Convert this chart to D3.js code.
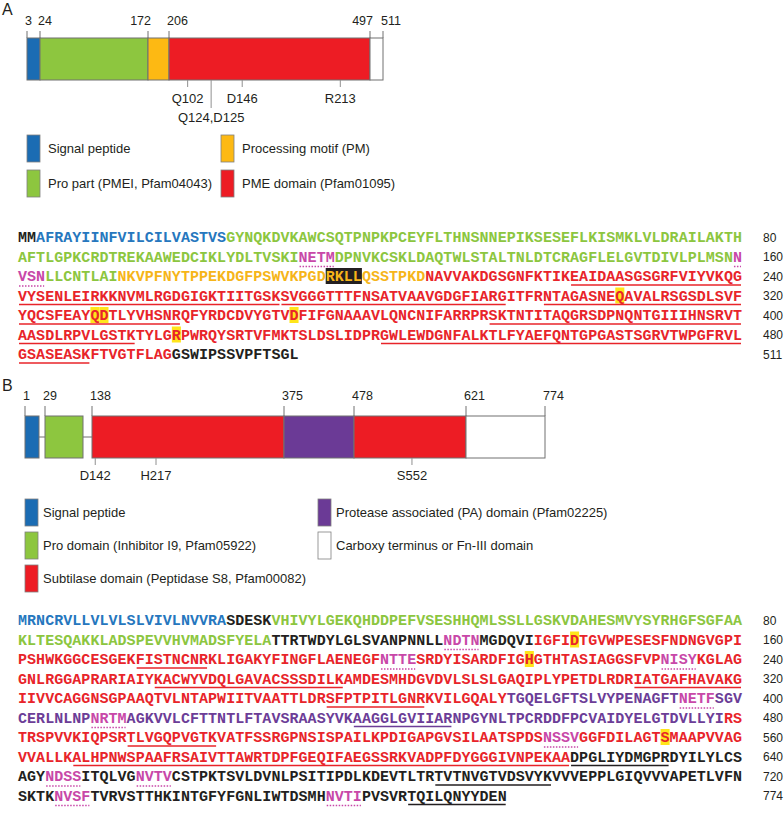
<!DOCTYPE html>
<html>
<head>
<meta charset="utf-8">
<script src="https://cdn.jsdelivr.net/npm/d3@7/dist/d3.min.js"></script>
<style>
  body { margin: 0; background: #fff; }
  svg { display: block; }
  .lab { font-family: "Liberation Sans", Arial, sans-serif; fill: #231f20; }
  .aa { font-family: "Liberation Mono", "Courier New", monospace; font-weight: bold; font-size: 15px; }
</style>
</head>
<body>
<svg width="784" height="817"></svg>
<script>
// ---- data: panel A (PME) ----
var seqA = [
  "MMAFRAYIINFVILCILVASTVSGYNQKDVKAWCSQTPNPKPCEYFLTHNSNNEPIKSESEFLKISMKLVLDRAILAKTH",
  "AFTLGPKCRDTREKAAWEDCIKLYDLTVSKINETMDPNVKCSKLDAQTWLSTALTNLDTCRAGFLELGVTDIVLPLMSNN",
  "VSNLLCNTLAINKVPFNYTPPEKDGFPSWVKPGDRKLLQSSTPKDNAVVAKDGSGNFKTIKEAIDAASGSGRFVIYVKQG",
  "VYSENLEIRKKNVMLRGDGIGKTIITGSKSVGGGTTTFNSATVAAVGDGFIARGITFRNTAGASNEQAVALRSGSDLSVF",
  "YQCSFEAYQDTLYVHSNRQFYRDCDVYGTVDFIFGNAAAVLQNCNIFARRPRSKTNTITAQGRSDPNQNTGIIIHNSRVT",
  "AASDLRPVLGSTKTYLGRPWRQYSRTVFMKTSLDSLIDPRGWLEWDGNFALKTLFYAEFQNTGPGASTSGRVTWPGFRVL",
  "GSASEASKFTVGTFLAGGSWIPSSVPFTSGL"
];
var breaksA = [3, 24, 172, 206, 497, 511];
var domainsA = ["signal", "pro", "pm", "pme", "cterm"];
var sitesA = ["Q102", "Q124,D125", "D146", "R213"];
var sitePosA = [233, 267, 312, 454];
var runsA = [[1, 2, "plain"], [3, 23, "signal"], [24, 171, "pro"], [172, 205, "pm"], [206, 497, "pme"], [498, 511, "plain"]];
var glycoA = [[112, 115], [160, 163]];
var motifA = [[195, 198]];
var activeA = [307, 329, 330, 351, 418];
var underA = [[222, 269, "pme"], [270, 294, "pme"], [299, 320, "pme"], [321, 338, "pme"], [373, 413, "pme"], [441, 488, "pme"]];
var legendA = [["signal", "Signal peptide"], ["pm", "Processing motif (PM)"],
               ["pro", "Pro part (PMEI, Pfam04043)"], ["pme", "PME domain (Pfam01095)"]];

// ---- data: panel B (subtilase) ----
var seqB = [
  "MRNCRVLLVLVLSLVIVLNVVRASDESKVHIVYLGEKQHDDPEFVSESHHQMLSSLLGSKVDAHESMVYSYRHGFSGFAA",
  "KLTESQAKKLADSPEVVHVMADSFYELATTRTWDYLGLSVANPNNLLNDTNMGDQVIIGFIDTGVWPESESFNDNGVGPI",
  "PSHWKGGCESGEKFISTNCNRKLIGAKYFINGFLAENEGFNTTESRDYISARDFIGHGTHTASIAGGSFVPNISYKGLAG",
  "GNLRGGAPRARIAIYKACWYVDQLGAVACSSSDILKAMDESMHDGVDVLSLSLGAQIPLYPETDLRDRIATGAFHAVAKG",
  "IIVVCAGGNSGPAAQTVLNTAPWIITVAATTLDRSFPTPITLGNRKVILGQALYTGQELGFTSLVYPENAGFTNETFSGV",
  "CERLNLNPNRTMAGKVVLCFTTNTLFTAVSRAASYVKAAGGLGVIIARNPGYNLTPCRDDFPCVAIDYELGTDVLLYIRS",
  "TRSPVVKIQPSRTLVGQPVGTKVATFSSRGPNSISPAILKPDIGAPGVSILAATSPDSNSSVGGFDILAGTSMAAPVVAG",
  "VVALLKALHPNWSPAAFRSAIVTTAWRTDPFGEQIFAEGSSRKVADPFDYGGGIVNPEKAADPGLIYDMGPRDYILYLCS",
  "AGYNDSSITQLVGNVTVCSTPKTSVLDVNLPSITIPDLKDEVTLTRTVTNVGTVDSVYKVVVEPPLGIQVVVAPETLVFN",
  "SKTKNVSFTVRVSTTHKINTGFYFGNLIWTDSMHNVTIPVSVRTQILQNYYDEN"
];
var breaksB = [1, 29, 138, 375, 478, 621, 774];
var boxesB = [[1, 24, "signal"], [29, 109, "pro"], [138, 375, "sub"], [375, 478, "pa"], [478, 621, "sub"], [621, 774, "cterm"]];
var sitesB = ["D142", "H217", "S552"];
var sitePosB = [142, 217, 552];
var runsB = [[1, 23, "signal"], [24, 28, "plain"], [29, 108, "pro"], [109, 137, "plain"], [138, 374, "sub"], [375, 478, "pa"], [479, 621, "sub"], [622, 774, "plain"]];
var glycoB = [[128, 131], [201, 204], [232, 235], [394, 397], [409, 412], [539, 542], [644, 647], [654, 657], [725, 728], [755, 758]];
var activeB = [142, 217, 552];
var underB = [[174, 181, "sub"], [256, 276, "sub"], [309, 320, "sub"], [355, 365, "sub"], [438, 448, "pa"], [493, 502, "sub"],
              [567, 621, "sub"], [622, 632, "plain"], [687, 699, "plain"], [764, 774, "plain"]];
var legendB = [["signal", "Signal peptide"], ["pa", "Protease associated (PA) domain (Pfam02225)"],
               ["pro", "Pro domain (Inhibitor I9, Pfam05922)"], ["cterm", "Carboxy terminus or Fn-III domain"],
               ["sub", "Subtilase domain (Peptidase S8, Pfam00082)"]];

// colours
var fillCol = { signal: "#1b6cb3", pro: "#8dc63f", pm: "#fdb913", pme: "#ed1c24", sub: "#ed1c24", pa: "#6b3a96", cterm: "#ffffff" };
var textCol = { signal: "#2677be", pro: "#8cc63f", pm: "#f6b519", pme: "#e8242a", sub: "#e8242a", pa: "#6c3d97", plain: "#231f20", glyco: "#c848a8" };
var edge = "#707070";

var svg = d3.select("svg");

// ---------- domain diagram ----------
function drawDiagram(g, o) {
  var x = o.x;
  g.append("text").attr("class", "lab").attr("x", 2).attr("y", o.panelY)
    .style("font-size", "16px").text(o.panel);

  // boundary ticks and numbers
  g.selectAll("line.bt").data(o.breaks).enter().append("line")
    .attr("x1", d => x(d)).attr("x2", d => x(d))
    .attr("y1", o.barTop - o.tickUp).attr("y2", o.barTop)
    .attr("stroke", edge).attr("stroke-width", 1);
  var nums = g.selectAll("text.bn").data(o.breaks).enter().append("text")
    .attr("class", "lab").style("font-size", "12.5px")
    .attr("y", o.numY).text(d => d);
  // start-anchored by default, end-anchored when the next number is too close
  nums.each(function (d, i) {
    var next = o.breaks[i + 1];
    var w = this.getComputedTextLength();
    if (next !== undefined && x(next) - x(d) < w + 2) {
      d3.select(this).attr("x", x(d) + 3).attr("text-anchor", "end");
    } else {
      d3.select(this).attr("x", x(d) - 2).attr("text-anchor", "start");
    }
  });

  // connector line for gapped boxes
  var mid = (o.barTop + o.barBot) / 2;
  g.append("line").attr("x1", x(o.breaks[0])).attr("x2", x(o.breaks[o.breaks.length - 1]))
    .attr("y1", mid).attr("y2", mid).attr("stroke", edge);

  g.selectAll("rect.box").data(o.boxes).enter().append("rect")
    .attr("x", d => x(d[0])).attr("width", d => x(d[1]) - x(d[0]))
    .attr("y", o.barTop).attr("height", o.barBot - o.barTop)
    .attr("fill", d => fillCol[d[2]]).attr("stroke", edge).attr("stroke-width", 1);

  // catalytic sites
  g.selectAll("line.st").data(o.sitePos).enter().append("line")
    .attr("x1", d => x(d)).attr("x2", d => x(d))
    .attr("y1", o.barBot).attr("y2", (d, i) => o.longTick === i ? o.barBot + 28 : o.barBot + 7)
    .attr("stroke", "#909090").attr("stroke-width", 1);
  g.selectAll("text.st").data(o.sites).enter().append("text")
    .attr("class", "lab").style("font-size", "13px").attr("text-anchor", "middle")
    .attr("x", (d, i) => x(o.sitePos[i]))
    .attr("y", (d, i) => o.longTick === i ? o.siteY + 19 : o.siteY)
    .text(d => d);

  // legend
  var lg = g.selectAll("g.leg").data(o.legend).enter().append("g")
    .attr("transform", (d, i) => "translate(" + o.legX[i % 2] + "," + (o.legTop + Math.floor(i / 2) * o.legStep) + ")");
  lg.append("rect").attr("width", 13).attr("height", 27)
    .attr("fill", d => fillCol[d[0]]).attr("stroke", "#808080").attr("stroke-width", 0.8);
  lg.append("text").attr("class", "lab").style("font-size", "13px")
    .attr("x", o.legText).attr("y", 18).text(d => d[1]);
}

var xA = d3.scaleLinear().domain(breaksA).range([27, 40, 148, 169, 370, 383]);
var boxesA = domainsA.map((d, i) => [breaksA[i], breaksA[i + 1], d]);
drawDiagram(svg.append("g"), {
  panel: "A", panelY: 15, x: xA, breaks: breaksA, boxes: boxesA,
  numY: 25, tickUp: 7, barTop: 38, barBot: 80,
  sites: sitesA, sitePos: sitePosA, longTick: 1, siteY: 103,
  legend: legendA, legX: [27, 221], legText: 21, legTop: 135, legStep: 35
});

var xB = d3.scaleLinear().domain([1, 24, 29, 109, 138, 375, 478, 621, 774])
  .range([25, 39, 45, 83, 92, 284, 354, 466, 545]);
drawDiagram(svg.append("g"), {
  panel: "B", panelY: 391, x: xB, breaks: breaksB, boxes: boxesB,
  numY: 400, tickUp: 10, barTop: 416, barBot: 458,
  sites: sitesB, sitePos: sitePosB, longTick: -1, siteY: 480,
  legend: legendB, legX: [25, 318], legText: 18, legTop: 499, legStep: 33
});

// ---------- sequences ----------
function drawSeq(g, o) {
  var perLine = 80;
  var x = d3.scaleLinear().domain([0, perLine]).range([18, 742]);
  var cw = x(1) - x(0);
  var y = d3.scaleLinear().domain([0, 1]).range([o.top, o.top + 19.5]);
  var res = o.lines.join("").split("").map((c, i) => ({ aa: c, n: i + 1 }));
  var total = res.length;
  function col(n) { return (n - 1) % perLine; }
  function row(n) { return Math.floor((n - 1) / perLine); }
  function inAny(n, list) { return list.some(r => n >= r[0] && n <= r[1]); }
  res.forEach(function (d) {
    var run = o.runs.find(r => d.n >= r[0] && d.n <= r[1]);
    d.cls = run ? run[2] : "plain";
    if (inAny(d.n, o.glyco)) d.cls = "glyco";
  });

  // split residue ranges at line ends
  function segs(list) {
    var out = [];
    list.forEach(function (r) {
      for (var L = row(r[0]); L <= row(r[1]); L++) {
        out.push({ s: Math.max(r[0], L * perLine + 1), e: Math.min(r[1], L * perLine + perLine), L: L, cls: r[2] });
      }
    });
    return out;
  }

  // highlights
  g.selectAll("rect.hl").data(o.active).enter().append("rect")
    .attr("x", d => x(col(d))).attr("width", cw)
    .attr("y", d => y(row(d)) - 8).attr("height", 16).attr("fill", "#ffe51a");
  g.selectAll("rect.mo").data(segs(o.motif)).enter().append("rect")
    .attr("x", d => x(col(d.s))).attr("width", d => x(col(d.e) + 1) - x(col(d.s)))
    .attr("y", d => y(d.L) - 8).attr("height", 16).attr("fill", "#231f20");

  g.selectAll("text.aa").data(res).enter().append("text")
    .attr("class", "aa").attr("text-anchor", "middle")
    .attr("x", d => x(col(d.n)) + cw / 2).attr("y", d => y(row(d.n)) + 5)
    .attr("fill", d => textCol[d.cls]).text(d => d.aa);

  g.selectAll("line.ul").data(segs(o.under)).enter().append("line")
    .attr("x1", d => x(col(d.s)) + 1).attr("x2", d => x(col(d.e) + 1) - 1)
    .attr("y1", d => y(d.L) + 9).attr("y2", d => y(d.L) + 9)
    .attr("stroke", d => textCol[d.cls]).attr("stroke-width", 1.6);
  g.selectAll("line.gl").data(segs(o.glyco)).enter().append("line")
    .attr("x1", d => x(col(d.s)) + 1).attr("x2", d => x(col(d.e) + 1) - 1)
    .attr("y1", d => y(d.L) + 10).attr("y2", d => y(d.L) + 10)
    .attr("stroke", textCol.glyco).attr("stroke-width", 1.5).attr("stroke-dasharray", "1.5 1.5");

  g.selectAll("text.ln").data(o.lines).enter().append("text")
    .attr("class", "lab").style("font-size", "12px")
    .attr("x", 763).attr("y", (d, i) => y(i) + 4.5)
    .text((d, i) => Math.min((i + 1) * perLine, total));
}

drawSeq(svg.append("g"), { lines: seqA, top: 237, runs: runsA, glyco: glycoA, motif: motifA, active: activeA, under: underA });
drawSeq(svg.append("g"), { lines: seqB, top: 620, runs: runsB, glyco: glycoB, motif: [], active: activeB, under: underB });
</script>
</body>
</html>
